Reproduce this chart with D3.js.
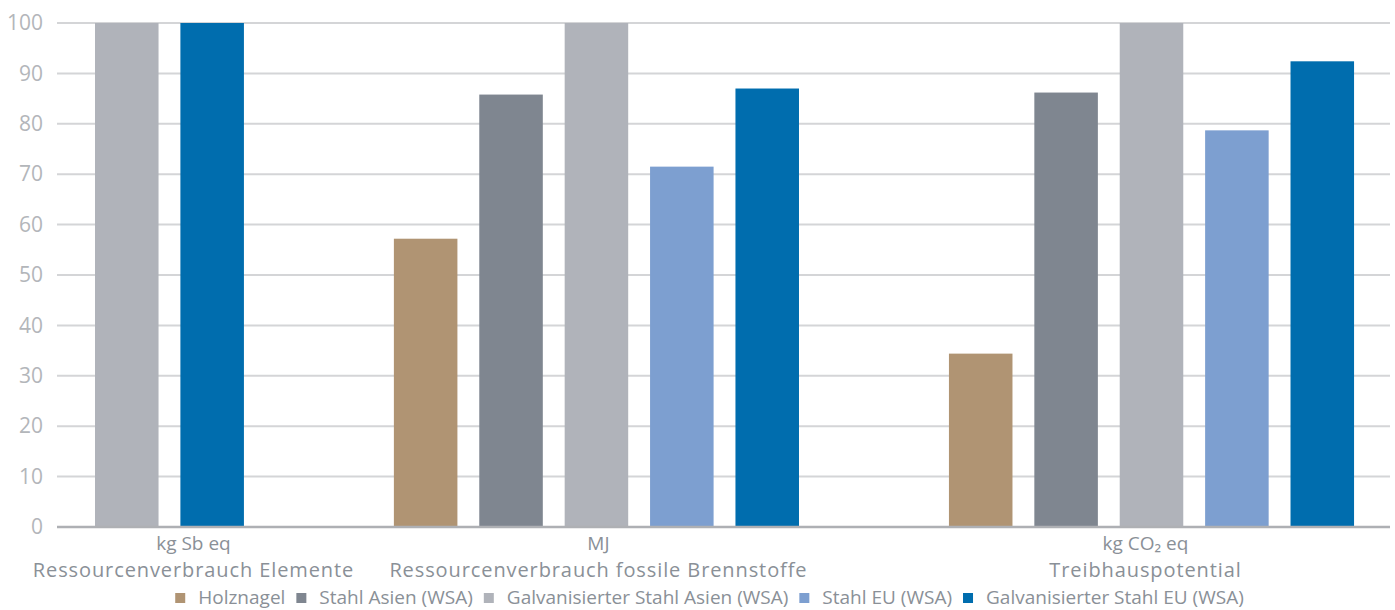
<!DOCTYPE html>
<html>
<head>
  <meta charset="UTF-8">
  <title>Umweltwirkung Holznagel vs. Stahl</title>
  <script src="https://d3js.org/d3.v7.min.js"></script>
  <style>
    body { margin: 0; background: #fff; font-family: "Open Sans", sans-serif; }
    svg { display: block; }
    .tick text { fill: #b3b6ba; font-size: 21px; }
    .unit { fill: #8a9097; font-size: 19px; text-anchor: middle; }
    .cat { fill: #8a9097; font-size: 20px; letter-spacing: 0.9px; text-anchor: middle; }
    .leg { fill: #8a9097; font-size: 19px; }
  </style>
</head>
<body>
  <svg width="1395" height="610"></svg>
  <script>
    // data (percent, largest = 100)
    const units = ["kg Sb eq", "MJ", "kg CO\u2082 eq"];
    const categories = ["Ressourcenverbrauch Elemente", "Ressourcenverbrauch fossile Brennstoffe", "Treibhauspotential"];
    const series = ["Holznagel", "Stahl Asien (WSA)", "Galvanisierter Stahl Asien (WSA)", "Stahl EU (WSA)", "Galvanisierter Stahl EU (WSA)"];
    const holznagel = [null, 57.2, 34.4];
    const stahlAsien = [null, 85.8, 86.2];
    const galvAsien = [100, 100, 100];
    const stahlEU = [null, 71.5, 78.7];
    const galvEU = [100, 87, 92.4];
    const yTicks = [0, 10, 20, 30, 40, 50, 60, 70, 80, 90, 100];
    const colors = ["#b09473", "#7f8690", "#b0b3ba", "#7d9fd0", "#006dae"];

    const values = [holznagel, stahlAsien, galvAsien, stahlEU, galvEU];

    const svg = d3.select("svg");
    const mLeft = 57, mRight = 1390, mTop = 23, mBottom = 527;

    // bars sit in "slots"; empty values get no slot, groups are 1.5 slots apart
    const bars = [];
    const groups = [];
    let s = 0;
    categories.forEach((c, ci) => {
      const start = s;
      series.forEach((name, si) => {
        const v = values[si][ci];
        if (v == null) return;
        bars.push({ cat: ci, series: si, value: v, slot: s });
        s += 1;
      });
      groups.push({ cat: ci, start: start, end: s - 1 });
      s += 1.5;
    });

    const x = d3.scaleLinear().domain([-0.445, 15.165]).range([mLeft, mRight]);
    const barW = x(0.744) - x(0);
    const y = d3.scaleLinear().domain([0, 100]).range([mBottom, mTop]);

    // grid
    svg.append("g")
      .selectAll("line")
      .data(yTicks.filter(t => t > 0))
      .join("line")
      .attr("x1", mLeft).attr("x2", mRight)
      .attr("y1", d => y(d)).attr("y2", d => y(d))
      .attr("stroke", "#d4d5d7").attr("stroke-width", 2);

    // y axis labels
    const yAxis = svg.append("g")
      .attr("transform", `translate(${mLeft},0)`)
      .call(d3.axisLeft(y).tickValues(yTicks).tickSize(0).tickPadding(14));
    yAxis.select(".domain").remove();
    yAxis.attr("font-family", null).attr("font-size", null);

    // bars
    svg.append("g")
      .selectAll("rect")
      .data(bars)
      .join("rect")
      .attr("x", d => x(d.slot))
      .attr("y", d => y(d.value))
      .attr("width", barW)
      .attr("height", d => y(0) - y(d.value))
      .attr("fill", d => colors[d.series]);

    // baseline
    svg.append("line")
      .attr("x1", mLeft).attr("x2", mRight)
      .attr("y1", y(0)).attr("y2", y(0))
      .attr("stroke", "#aeb0b4").attr("stroke-width", 2.5);

    // category labels
    const nudge = [24, 2, -6];
    const cats = svg.append("g");
    groups.forEach(g => {
      const cx = (x(g.start) + x(g.end) + barW) / 2 + nudge[g.cat];
      cats.append("text").attr("class", "unit")
        .attr("x", cx).attr("y", 550).text(units[g.cat]);
      cats.append("text").attr("class", "cat")
        .attr("x", cx).attr("y", 577).text(categories[g.cat]);
    });

    // legend
    const leg = svg.append("g");
    let lx = 0;
    series.forEach((name, i) => {
      const it = leg.append("g").attr("transform", `translate(${lx},0)`);
      it.append("rect").attr("x", 0).attr("y", -11).attr("width", 10).attr("height", 10)
        .attr("fill", colors[i]);
      const t = it.append("text").attr("class", "leg").attr("x", 23).attr("y", 0).text(name);
      lx += 23 + t.node().getComputedTextLength() + 11;
    });
    leg.attr("transform", `translate(${(168 + 1251) / 2 - (lx - 11) / 2},604)`);
  </script>
</body>
</html>
